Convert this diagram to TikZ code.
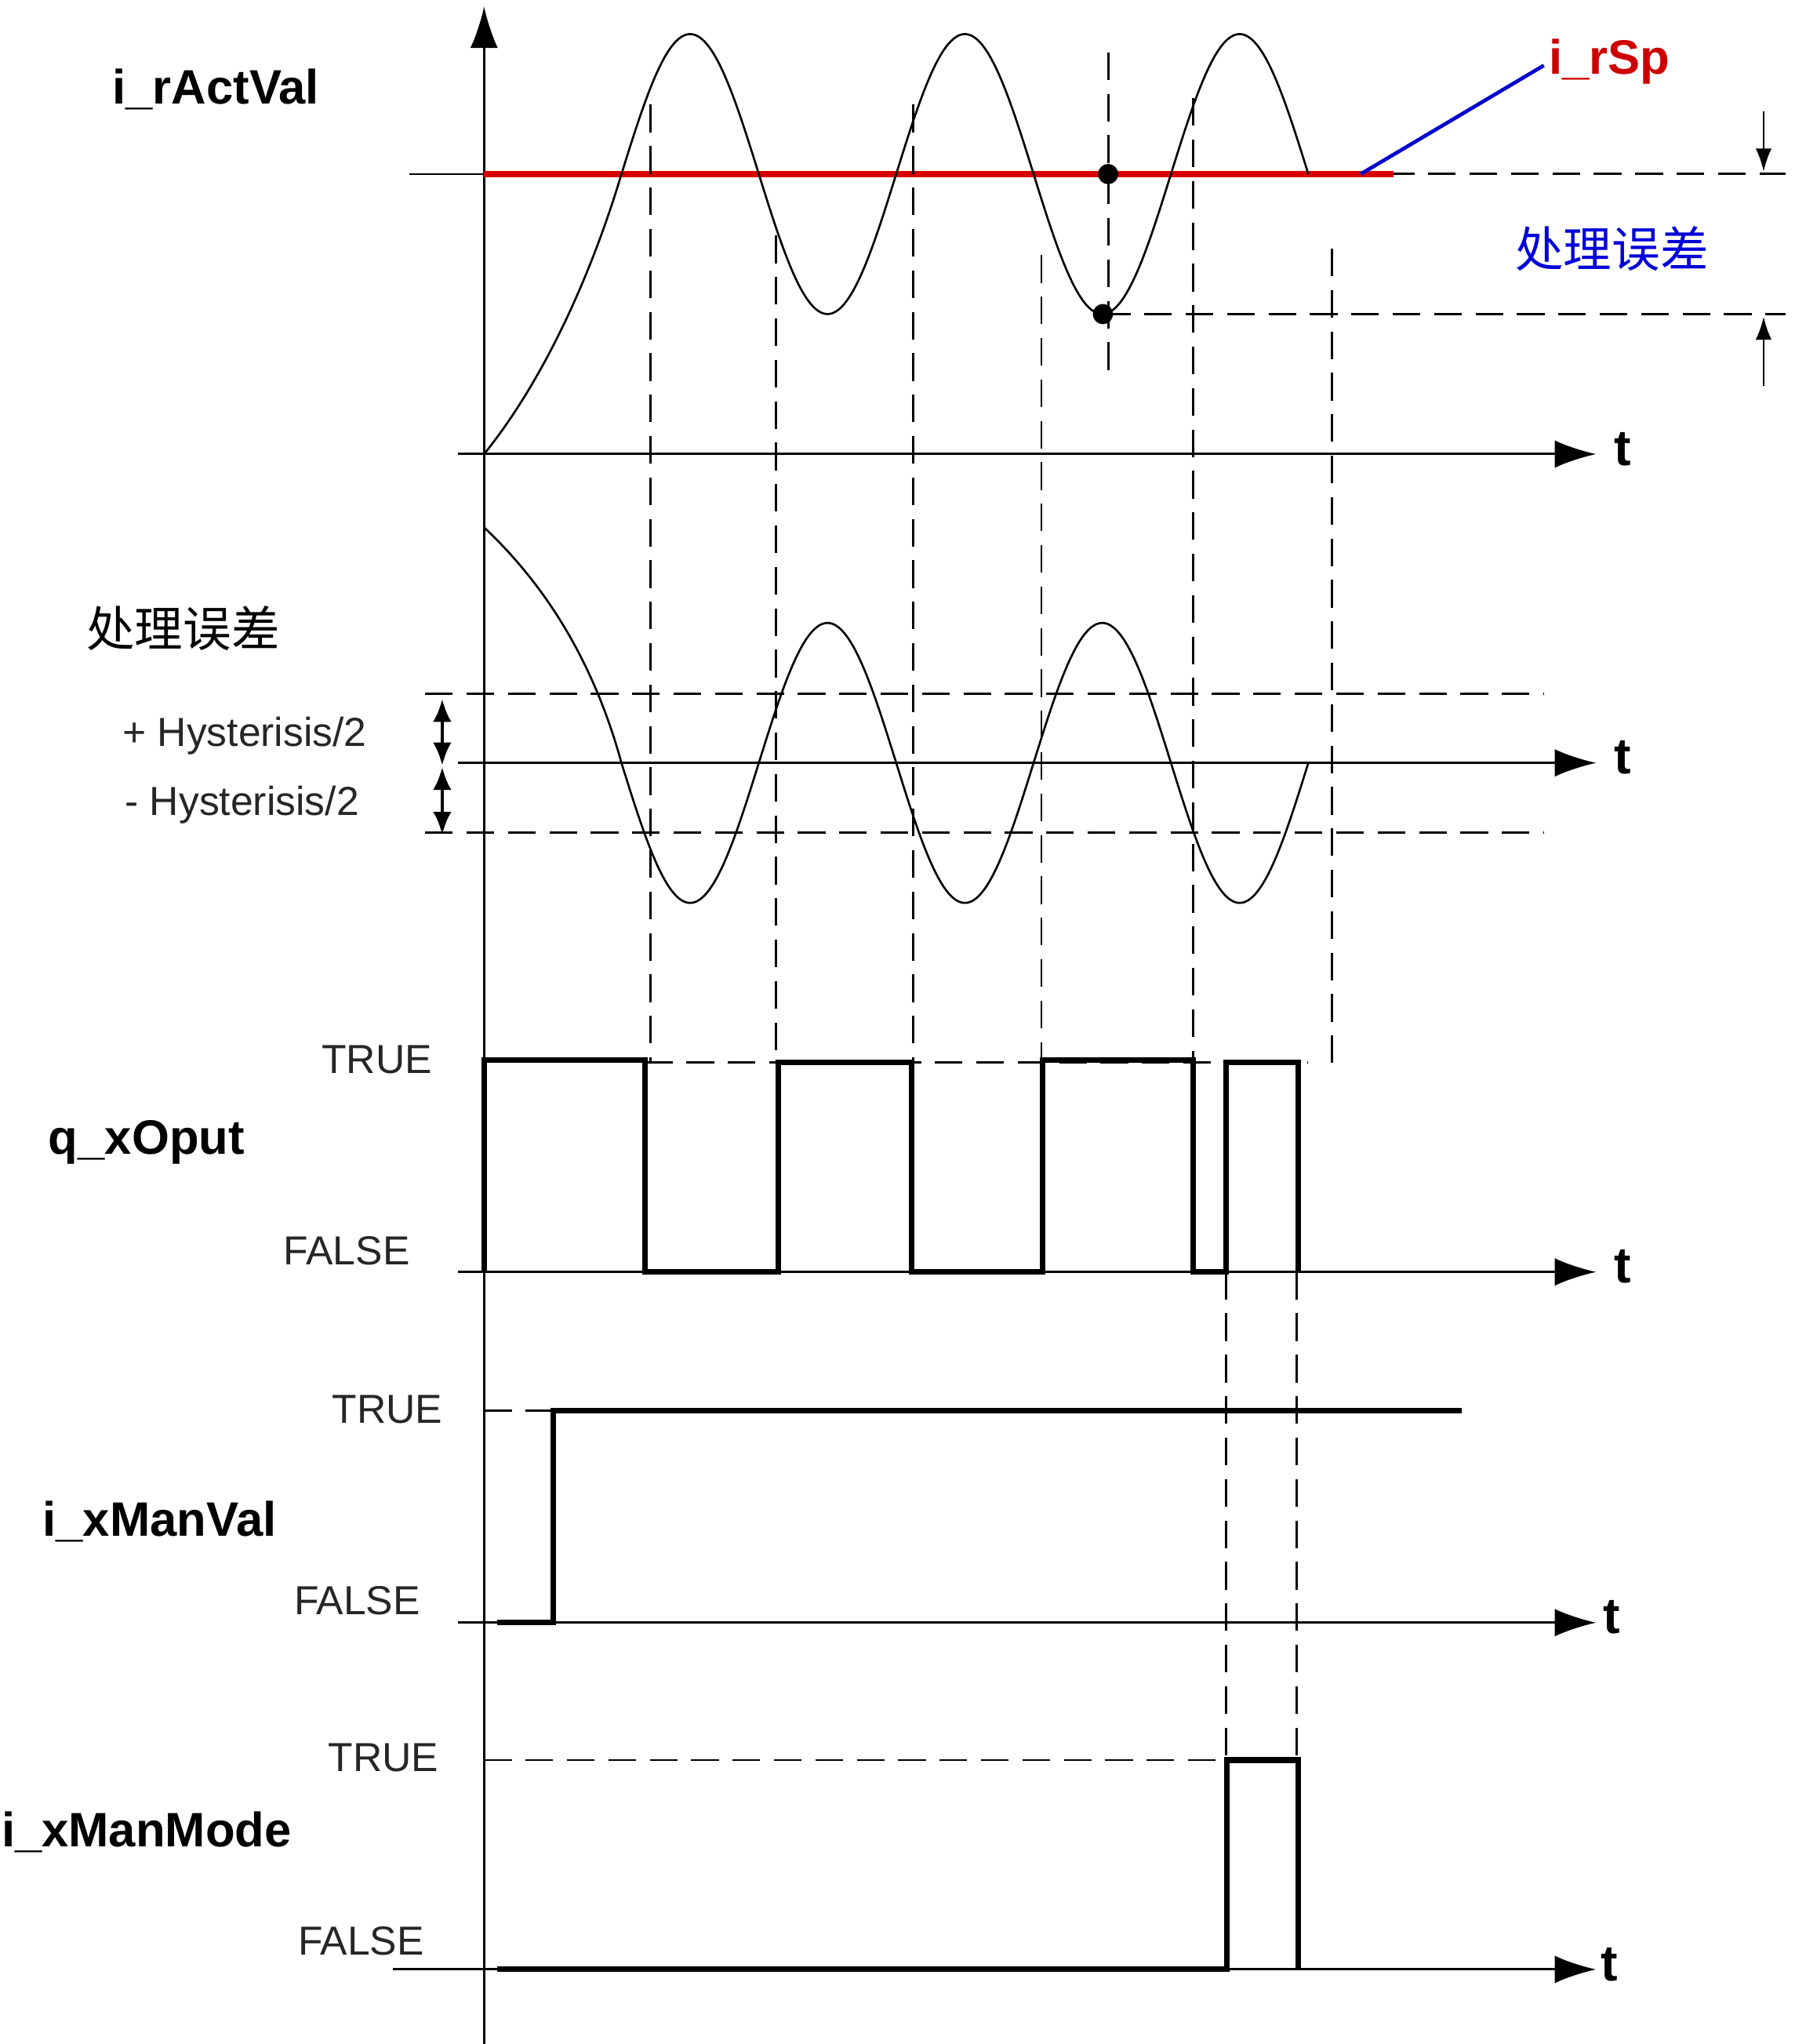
\documentclass[tikz,border=0pt]{standalone}
\usepackage{fontspec}
\setmainfont{Liberation Sans}
\newfontfamily\cjk{Noto Sans CJK SC}
\usetikzlibrary{arrows.meta}
\begin{document}
\begin{tikzpicture}[x=0.01cm,y=-0.01cm,
  ax/.style={line width=0.5pt,-{Latex[length=9pt,width=6pt]}},
  thin/.style={line width=0.45pt},
  dsh/.style={line width=0.5pt,dash pattern=on 6pt off 3pt},
  sig/.style={line width=1.2pt},
  lab/.style={font=\fontsize{8.8}{10}\selectfont,text=black!85},
  big/.style={font=\bfseries\fontsize{10.5}{12}\selectfont},
  tt/.style={font=\bfseries\fontsize{11}{12}\selectfont}]
\useasboundingbox (0,0) rectangle (1380,1562);
% main vertical axis
\draw[ax] (370,1562) -- (370,5);
% plot 1
\draw[ax] (350,347) -- (1220,347);
\node[tt] (t1) at (1240,343) {t};
\draw[thin] (313,133) -- (1060,133);
\draw[dsh] (1060,133) -- (1365,133);
\draw[line width=1.5pt,red!85!black] (370,133) -- (1065,133);
\draw[line width=0.8pt,blue!80!black] (1180,50) -- (1040,133);
\node[font=\bfseries\fontsize{10.5}{12}\selectfont,text=red!80!black] (rsp) at (1230,47) {i\_rSp};
\draw[thin] (370,347) .. controls (420,285) and (455,200) .. (475,133);
\draw[thin,domain=475:1000,samples=150,smooth] plot (\x,{133-107*sin((\x-475)/210*360)});
\draw[dsh] (847,40) -- (847,285);
\draw[dsh] (843,240) -- (1365,240);
\fill (847,133) circle (2.2pt);
\fill (843,240) circle (2.2pt);
\draw[thin,-{Latex[length=5pt,width=3.5pt]}] (1348,85) -- (1348,131);
\draw[thin,-{Latex[length=5pt,width=3.5pt]}] (1348,295) -- (1348,242);
\node[font=\cjk\fontsize{10.5}{12}\selectfont,text=blue!85!black] (err1) at (1232,190) {处理误差};
\node[big] (act) at (165,68) {i\_rActVal};
% dashed verticals
\foreach \xx/\ya/\yb in {497/80/812, 593/180/812, 698/80/812, 796/195/812, 912/75/812, 1018/190/820}
  \draw[dsh] (\xx,\ya) -- (\xx,\yb);
% plot 2
\draw[ax] (350,583) -- (1220,583);
\node[tt] (t2) at (1240,579) {t};
\draw[dsh] (325,530) -- (1180,530);
\draw[dsh] (325,636) -- (1180,636);
\draw[thin] (370,403) .. controls (420,450) and (455,510) .. (475,583);
\draw[thin,domain=475:1000,samples=150,smooth] plot (\x,{583+107*sin((\x-475)/210*360)});
\draw[line width=0.8pt,{Latex[length=5pt,width=4pt]}-{Latex[length=5pt,width=4pt]}] (338,534) -- (338,585);
\draw[line width=0.8pt,{Latex[length=5pt,width=4pt]}-{Latex[length=5pt,width=4pt]}] (338,586) -- (338,638);
\node[lab] (hp) at (187,562) {+ Hysterisis/2};
\node[lab] (hm) at (185,615) {- Hysterisis/2};
\node[font=\cjk\fontsize{10.5}{12}\selectfont] (err2) at (140,480) {处理误差};
% plot 3
\draw[ax] (350,972) -- (1220,972);
\node[tt] (t3) at (1240,968) {t};
\draw[dsh] (493,812) -- (1000,812);
\draw[sig] (370,972) -- (370,810) -- (493,810) -- (493,972) -- (595,972) -- (595,812) -- (697,812) -- (697,972) -- (797,972) -- (797,810) -- (912,810) -- (912,972) -- (937,972) -- (937,812) -- (992,812) -- (992,972);
\node[lab] (tr3) at (288,810) {TRUE};
\node[lab] (fa3) at (265,956) {FALSE};
\node[big] (qx) at (112,873) {q\_xOput};
\draw[dsh] (937,972) -- (937,1345);
\draw[dsh] (991,972) -- (991,1345);
% plot 4
\draw[ax] (350,1240) -- (1220,1240);
\node[tt] (t4) at (1232,1236) {t};
\draw[dsh] (370,1078) -- (423,1078);
\draw[sig] (380,1240) -- (423,1240) -- (423,1078) -- (1117,1078);
\node[lab] (tr4) at (296,1077) {TRUE};
\node[lab] (fa4) at (273,1223) {FALSE};
\node[big] (mv) at (122,1163) {i\_xManVal};
% plot 5
\draw[ax] (300,1505) -- (1220,1505);
\node[tt] (t5) at (1230,1501) {t};
\draw[dsh] (370,1345) -- (1000,1345);
\draw[sig] (380,1505) -- (938,1505) -- (938,1345) -- (992,1345) -- (992,1505);
\node[lab] (tr5) at (293,1343) {TRUE};
\node[lab] (fa5) at (276,1483) {FALSE};
\node[big] (mm) at (112,1400) {i\_xManMode};
\end{tikzpicture}
\end{document}
